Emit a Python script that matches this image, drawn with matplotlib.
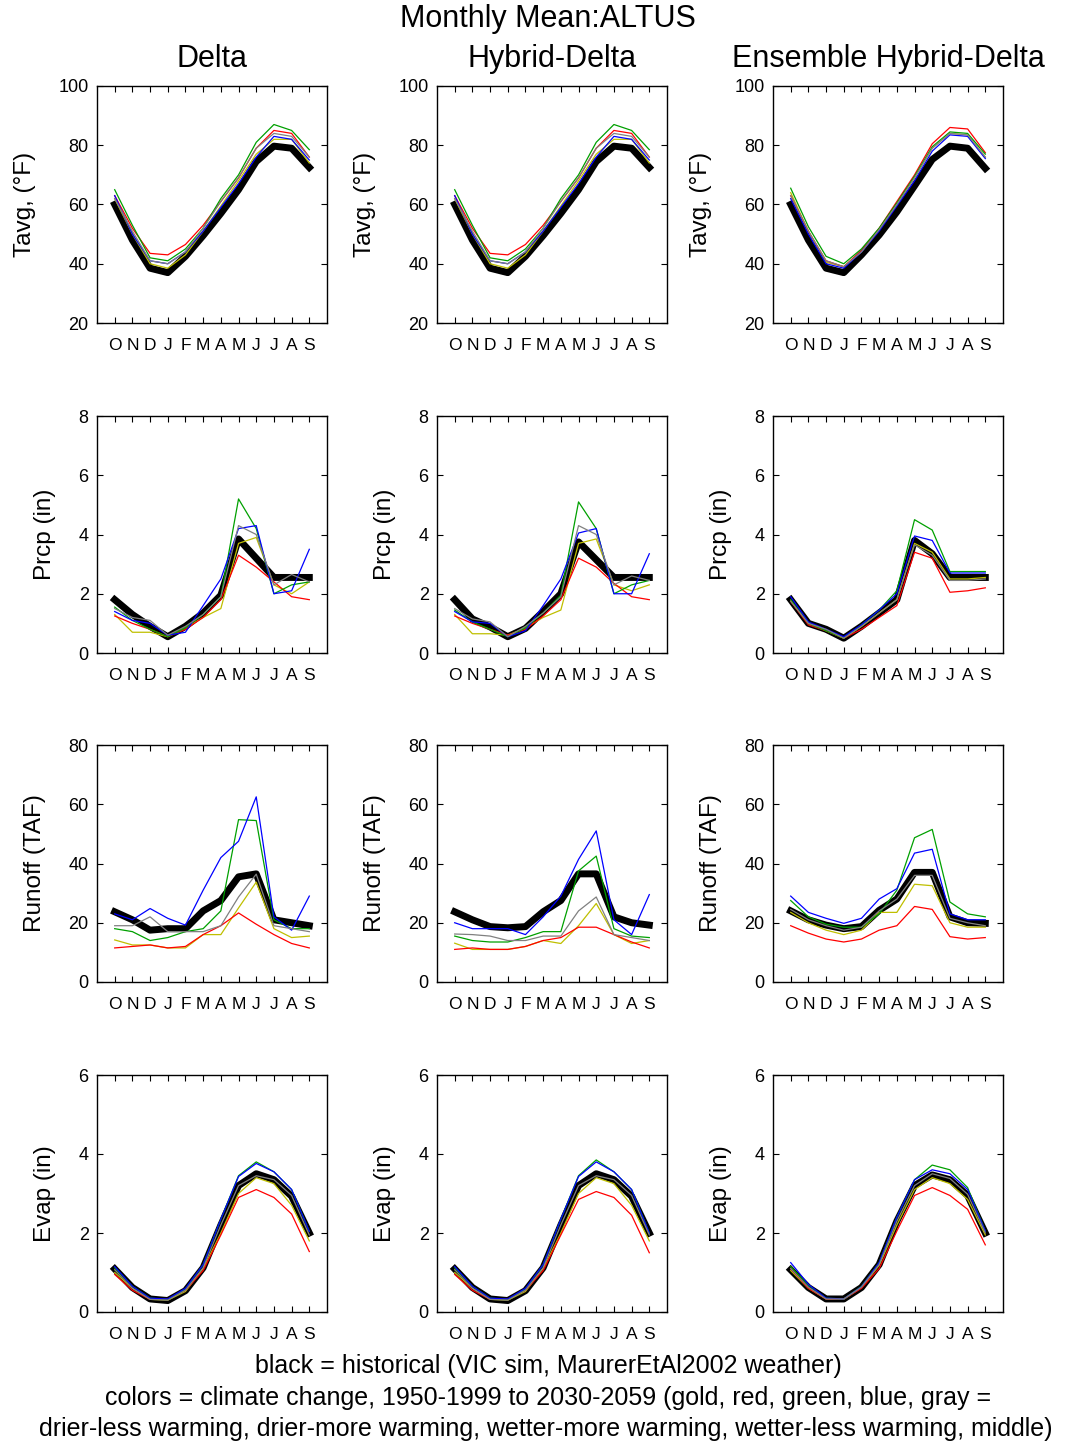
import matplotlib
matplotlib.use('Agg')
import matplotlib.pyplot as plt

plt.rcParams['font.family'] = ['Liberation Sans', 'DejaVu Sans']

months = ['O', 'N', 'D', 'J', 'F', 'M', 'A', 'M', 'J', 'J', 'A', 'S']
x = list(range(1, 13))

# series order in every panel: black (historical), gold, red, green, blue, gray
series_colors = ['black', '#bfbf00', 'red', '#00a000', 'blue', '#808080']
series_widths = [5.0, 0.9, 0.9, 0.9, 0.9, 0.9]

column_titles = ['Delta', 'Hybrid-Delta', 'Ensemble Hybrid-Delta']
row_labels = ['Tavg, (°F)', 'Prcp (in)', 'Runoff (TAF)', 'Evap (in)']
row_ylims = [(20, 100), (0, 8), (0, 80), (0, 6)]
row_yticks = [[20, 40, 60, 80, 100], [0, 2, 4, 6, 8], [0, 20, 40, 60, 80], [0, 2, 4, 6]]

# ---- Tavg ----
delta_tavg = [
    [60, 48, 38.5, 37, 42.5, 49.5, 57, 65, 74.5, 79.7, 79, 72.5],
    [62, 50, 40, 38.5, 43, 51, 59.5, 68, 77, 82, 82, 74],
    [63, 52, 43.5, 43, 46.5, 53, 61, 69, 79, 85, 84, 76],
    [65, 53, 42, 41, 45, 52, 62, 70, 81, 87, 85, 78.5],
    [63, 50, 41, 40, 44, 51, 59, 67, 76, 83, 82, 75],
    [62, 51, 41, 40, 44, 52, 61, 69, 79, 84, 83, 76],
]
hybrid_tavg = [
    [60, 48, 38.5, 37, 42.5, 49.5, 57, 65, 74.5, 79.7, 79, 72.5],
    [62, 50, 40, 38.5, 43, 51, 59.5, 68, 77, 82, 82, 74],
    [63, 52, 43.5, 43, 46.5, 53, 61, 69, 79, 85, 84, 76],
    [65, 53, 42, 41, 45, 52, 62, 70, 81, 87, 85, 78.5],
    [63, 50, 41, 40, 44, 51, 59, 67, 76, 83, 82, 75],
    [62, 51, 41, 40, 44, 52, 61, 69, 79, 84, 83, 76],
]
ensemble_tavg = [
    [60, 48, 38.5, 37, 43, 49.7, 57.5, 66.3, 75.2, 79.7, 79, 72.2],
    [64, 51, 40.5, 39, 44, 51.5, 60, 69, 79, 84, 83.5, 76],
    [63, 51, 41, 39, 44.5, 52, 61, 70, 80.5, 86, 85.5, 77.5],
    [65.5, 52.5, 42.5, 40, 45, 52, 60.5, 69.5, 79.5, 84.5, 84, 77],
    [62, 50, 40, 38.5, 44, 51, 59.5, 68, 78, 83.5, 83, 75.5],
    [63, 51, 41, 39, 44, 51.5, 60, 69, 79, 84, 83.5, 76],
]

# ---- Prcp ----
delta_prcp = [
    [1.8, 1.3, 0.9, 0.55, 0.9, 1.35, 1.95, 3.85, 3.2, 2.55, 2.55, 2.55],
    [1.3, 0.7, 0.7, 0.55, 0.85, 1.2, 1.5, 3.7, 3.9, 2.3, 2.0, 2.4],
    [1.25, 1.0, 0.8, 0.55, 0.8, 1.2, 1.8, 3.3, 2.9, 2.4, 1.9, 1.8],
    [1.55, 1.1, 0.8, 0.55, 0.85, 1.3, 1.9, 5.2, 4.2, 2.0, 2.3, 2.4],
    [1.4, 1.1, 1.0, 0.6, 0.7, 1.6, 2.5, 4.2, 4.3, 2.0, 2.1, 3.5],
    [1.5, 1.2, 1.1, 0.6, 0.9, 1.3, 1.9, 4.3, 4.0, 2.3, 2.65, 2.4],
]
hybrid_prcp = [
    [1.8, 1.15, 0.88, 0.55, 0.83, 1.4, 2.0, 3.75, 3.15, 2.55, 2.55, 2.55],
    [1.3, 0.65, 0.65, 0.6, 0.85, 1.2, 1.45, 3.7, 3.85, 2.3, 2.1, 2.3],
    [1.25, 1.0, 0.8, 0.6, 0.8, 1.25, 1.8, 3.2, 2.9, 2.35, 1.9, 1.8],
    [1.45, 1.05, 0.8, 0.55, 0.85, 1.35, 1.95, 5.1, 4.2, 2.0, 2.3, 2.45],
    [1.4, 1.05, 1.0, 0.55, 0.75, 1.6, 2.5, 4.05, 4.2, 2.0, 2.0, 3.35],
    [1.5, 1.15, 1.05, 0.55, 0.9, 1.35, 1.9, 4.3, 4.0, 2.3, 2.6, 2.45],
]
ensemble_prcp = [
    [1.8, 1.0, 0.8, 0.5, 0.9, 1.35, 1.8, 3.8, 3.35, 2.55, 2.55, 2.55],
    [1.75, 1.0, 0.75, 0.5, 0.9, 1.35, 1.8, 3.7, 3.4, 2.5, 2.5, 2.55],
    [1.75, 0.95, 0.75, 0.5, 0.8, 1.2, 1.6, 3.4, 3.2, 2.05, 2.1, 2.2],
    [1.8, 1.0, 0.75, 0.5, 0.95, 1.45, 2.1, 4.5, 4.15, 2.75, 2.75, 2.75],
    [1.9, 1.05, 0.8, 0.55, 0.95, 1.45, 2.0, 3.95, 3.8, 2.7, 2.7, 2.7],
    [1.75, 1.0, 0.8, 0.5, 0.9, 1.35, 1.8, 3.65, 3.3, 2.45, 2.45, 2.5],
]

# ---- Runoff ----
delta_runoff = [
    [23.7, 21, 17.5, 18, 18, 24, 27.5, 35.5, 36.5, 21, 20, 19],
    [14.2, 12.5, 12.5, 11.5, 11.5, 16, 16, 25, 33.7, 18, 15, 15.5],
    [11.5, 12, 12.5, 11.5, 12, 16, 19, 23.3, 19.5, 16, 13, 11.5],
    [18, 17, 14, 15, 17, 18, 24, 54.8, 54.5, 21, 18, 18],
    [23, 21, 24.8, 21.5, 19.2, 31, 42, 47.5, 62.5, 22, 17.5, 29],
    [19, 19, 22, 17, 17, 17, 19, 28.7, 36.4, 19, 18, 17],
]
hybrid_runoff = [
    [23.7, 21, 18.7, 18.3, 18.7, 23.7, 27.5, 36.5, 36.5, 22, 20, 19.2],
    [13.1, 11, 11, 11, 12, 14, 13, 19, 26.5, 16, 13, 14],
    [11, 11.5, 11, 11, 12, 14, 15, 18.5, 18.5, 16, 13.5, 11.5],
    [15.5, 14, 13.5, 13.5, 15, 17, 17, 37.5, 42.5, 18, 15.5, 15],
    [20, 18, 18, 18, 16, 22, 29, 41.4, 51, 21, 16, 29.5],
    [16.2, 16, 15.5, 14, 14, 15.5, 15.5, 24, 28.7, 16, 15, 14],
]
ensemble_runoff = [
    [24, 21, 19.2, 18, 18.7, 24.2, 28, 37, 37, 22, 20, 19.8],
    [23.5, 20, 17.5, 16, 17.5, 23.5, 23.5, 33, 32.5, 20, 18.5, 18.5],
    [19, 16.5, 14.5, 13.5, 14.5, 17.5, 19, 25.5, 24.5, 15.3, 14.5, 15],
    [27.5, 22, 19.5, 18.5, 18.5, 23, 31, 48.7, 51.5, 27, 23, 22],
    [29, 23.5, 21.5, 19.8, 21.5, 28, 31.5, 43.5, 44.8, 23, 21, 21],
    [24.5, 21, 19, 17.5, 18.5, 24, 28, 36, 36, 21.5, 20, 19],
]

# ---- Evap ----
delta_evap = [
    [1.09, 0.62, 0.33, 0.29, 0.54, 1.12, 2.2, 3.2, 3.5, 3.35, 2.93, 2.0],
    [1.0, 0.6, 0.32, 0.3, 0.52, 1.1, 2.0, 3.0, 3.4, 3.25, 2.7, 1.8],
    [0.95, 0.55, 0.32, 0.33, 0.55, 1.05, 1.95, 2.9, 3.1, 2.9, 2.48, 1.53],
    [1.12, 0.65, 0.35, 0.32, 0.58, 1.2, 2.35, 3.45, 3.8, 3.55, 3.1, 2.04],
    [1.15, 0.65, 0.35, 0.33, 0.6, 1.2, 2.35, 3.43, 3.76, 3.55, 3.1, 2.04],
    [1.07, 0.6, 0.32, 0.3, 0.55, 1.12, 2.2, 3.2, 3.45, 3.35, 2.95, 1.95],
]
hybrid_evap = [
    [1.09, 0.62, 0.33, 0.29, 0.54, 1.12, 2.2, 3.2, 3.5, 3.35, 2.93, 2.0],
    [1.0, 0.6, 0.32, 0.3, 0.52, 1.1, 2.0, 3.0, 3.4, 3.25, 2.7, 1.8],
    [0.95, 0.55, 0.32, 0.33, 0.55, 1.05, 1.95, 2.85, 3.05, 2.9, 2.45, 1.5],
    [1.12, 0.65, 0.35, 0.32, 0.58, 1.2, 2.35, 3.45, 3.85, 3.55, 3.1, 2.0],
    [1.15, 0.65, 0.35, 0.33, 0.6, 1.2, 2.35, 3.43, 3.8, 3.55, 3.1, 2.0],
    [1.07, 0.6, 0.32, 0.3, 0.55, 1.12, 2.2, 3.2, 3.45, 3.35, 2.95, 1.95],
]
ensemble_evap = [
    [1.07, 0.62, 0.33, 0.33, 0.62, 1.2, 2.3, 3.2, 3.47, 3.35, 2.95, 2.0],
    [1.05, 0.6, 0.33, 0.32, 0.62, 1.18, 2.2, 3.1, 3.4, 3.25, 2.85, 1.95],
    [1.1, 0.6, 0.33, 0.33, 0.6, 1.1, 2.05, 2.95, 3.15, 2.95, 2.6, 1.7],
    [1.15, 0.68, 0.35, 0.33, 0.65, 1.25, 2.4, 3.35, 3.72, 3.6, 3.15, 2.05],
    [1.25, 0.7, 0.35, 0.33, 0.64, 1.25, 2.4, 3.35, 3.6, 3.5, 3.1, 2.05],
    [1.1, 0.63, 0.33, 0.33, 0.63, 1.2, 2.3, 3.2, 3.5, 3.38, 2.98, 2.0],
]

panels = [
    [delta_tavg, hybrid_tavg, ensemble_tavg],
    [delta_prcp, hybrid_prcp, ensemble_prcp],
    [delta_runoff, hybrid_runoff, ensemble_runoff],
    [delta_evap, hybrid_evap, ensemble_evap],
]

W, H = 1078, 1445
fig = plt.figure(figsize=(W / 100, H / 100), dpi=100)

col_left = [97, 437, 773]
row_top = [86, 416, 745, 1075]
ax_w, ax_h = 230, 237

for r in range(4):
    for c in range(3):
        ax = fig.add_axes([col_left[c] / W, 1 - (row_top[r] + ax_h) / H, ax_w / W, ax_h / H])
        for vals, col, lw in zip(panels[r][c], series_colors, series_widths):
            ax.plot(x, vals, color=col, lw=lw)
        ax.set_xlim(0, 13)
        ax.set_ylim(*row_ylims[r])
        ax.set_yticks(row_yticks[r])
        ax.set_xticks(x)
        ax.set_xticklabels(months)
        ax.tick_params(direction='in', top=True, right=True, length=4, width=0.8,
                       labelsize=13, pad=6)
        ax.tick_params(axis='x', labelsize=12.5, pad=11)
        ax.set_ylabel(row_labels[r], fontsize=17.5, labelpad=16)
        for sp in ax.spines.values():
            sp.set_linewidth(1.0)
        if r == 0:
            ax.set_title(column_titles[c], fontsize=22, pad=14)

fig.text(548 / W, 1 - 19 / H, 'Monthly Mean:ALTUS', ha='center', va='center', fontsize=22)
fig.text(548 / W, 1 - 1366 / H, 'black = historical (VIC sim, MaurerEtAl2002 weather)',
         ha='center', va='center', fontsize=18)
fig.text(548 / W, 1 - 1398 / H,
         'colors = climate change, 1950-1999 to 2030-2059 (gold, red, green, blue, gray =',
         ha='center', va='center', fontsize=18)
fig.text(546 / W, 1 - 1429 / H,
         'drier-less warming, drier-more warming, wetter-more warming, wetter-less warming, middle)',
         ha='center', va='center', fontsize=18)

fig.savefig('out.png', dpi=100)
